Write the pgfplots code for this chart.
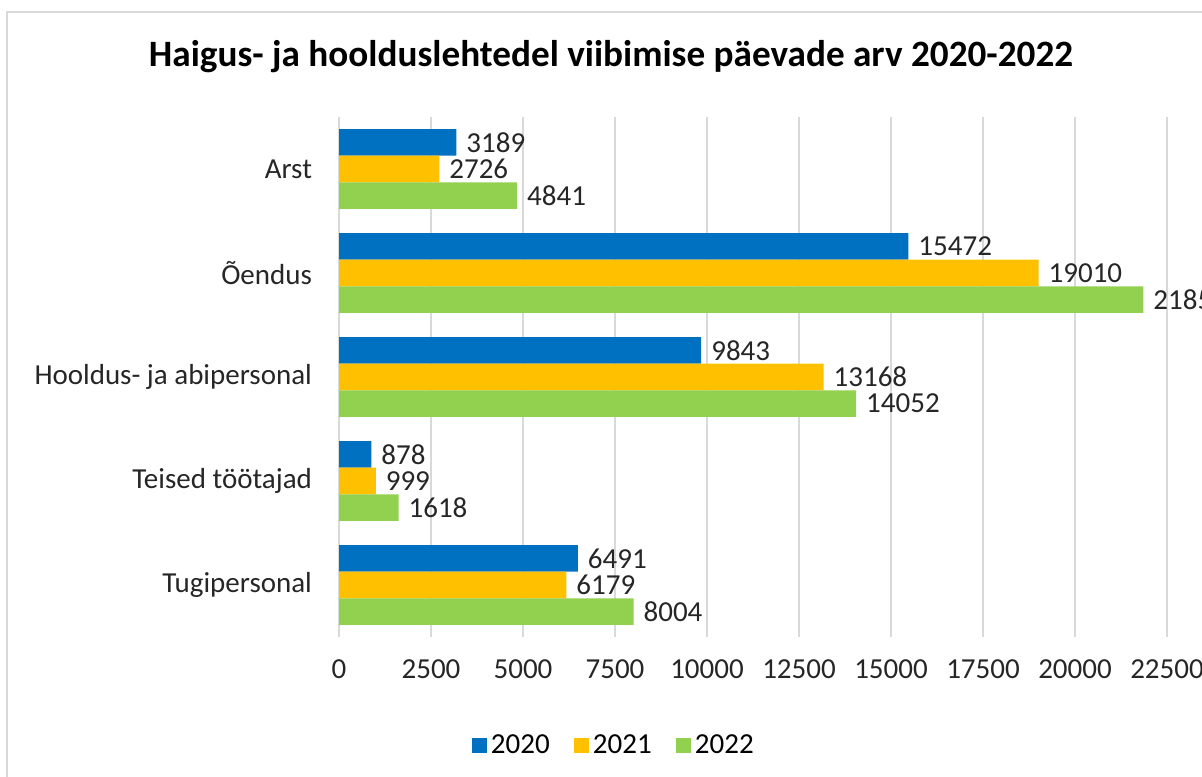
\documentclass[border=0pt]{standalone}
\usepackage{fontspec}
\setmainfont{Carlito}
\usepackage{pgfplots}
\pgfplotsset{compat=1.18}
\definecolor{c2020}{HTML}{0070C0}
\definecolor{c2021}{HTML}{FFC000}
\definecolor{c2022}{HTML}{92D050}
\definecolor{gridgray}{HTML}{D9D9D9}
\pgfkeys{/pgf/number format/.cd, 1000 sep={}, assume math mode=true}

\begin{document}
\begin{tikzpicture}
\useasboundingbox (0,0) rectangle (601pt,388pt);
\clip (0,0) rectangle (601pt,388pt);
\draw[gridgray, line width=0.8pt] (3.5pt,-5pt) rectangle (640pt,382pt);
\node[font=\fontsize{18.6}{22}\selectfont\bfseries] at (305.5pt,359.5pt)
  {Haigus- ja hooldus­lehtedel viibimise päevade arv 2020-2022};
\begin{axis}[
    at={(169.5pt,69.5pt)}, anchor=south west,
    scale only axis, width=414pt, height=260pt,
    xbar, bar width=13.3pt,
    xmin=0, xmax=22500,
    xtick={0,2500,...,22500},
    scaled x ticks=false,
    ymin=-0.5, ymax=4.5,
    ytick={0,1,2,3,4},
    yticklabels={Tugipersonal, Teised töötajad, Hooldus- ja abipersonal, Õendus, Arst},
    axis line style={draw=none},
    major tick length=0pt,
    xmajorgrids, grid style={gridgray, line width=0.9pt},
    ymajorgrids=false,
    tick label style={font=\fontsize{14.5}{17}\selectfont, text=black!85},
    xticklabel style={yshift=-8pt},
    yticklabel style={xshift=-10pt},
    clip=false,
    nodes near coords={\pgfmathprintnumber{\pgfplotspointmeta}},
    every node near coord/.append style={font=\fontsize{14.5}{17}\selectfont, text=black!85, xshift=1.5pt},
    legend style={at={(0.333,-0.208)}, anchor=center, draw=none,
        legend columns=3, font=\fontsize{14.5}{17}\selectfont,
        /tikz/every even column/.append style={column sep=10pt}},
    legend image code/.code={\fill[#1] (0pt,-3.8pt) rectangle (7.6pt,3.8pt);},
]
\addplot[fill=c2020, draw=none, bar shift=13.3pt] coordinates {(3189,4) (15472,3) (9843,2) (878,1) (6491,0)};
\addplot[fill=c2021, draw=none, bar shift=0pt] coordinates {(2726,4) (19010,3) (13168,2) (999,1) (6179,0)};
\addplot[fill=c2022, draw=none, bar shift=-13.3pt] coordinates {(4841,4) (21858,3) (14052,2) (1618,1) (8004,0)};
\legend{2020,2021,2022}
\end{axis}
\end{tikzpicture}
\end{document}
